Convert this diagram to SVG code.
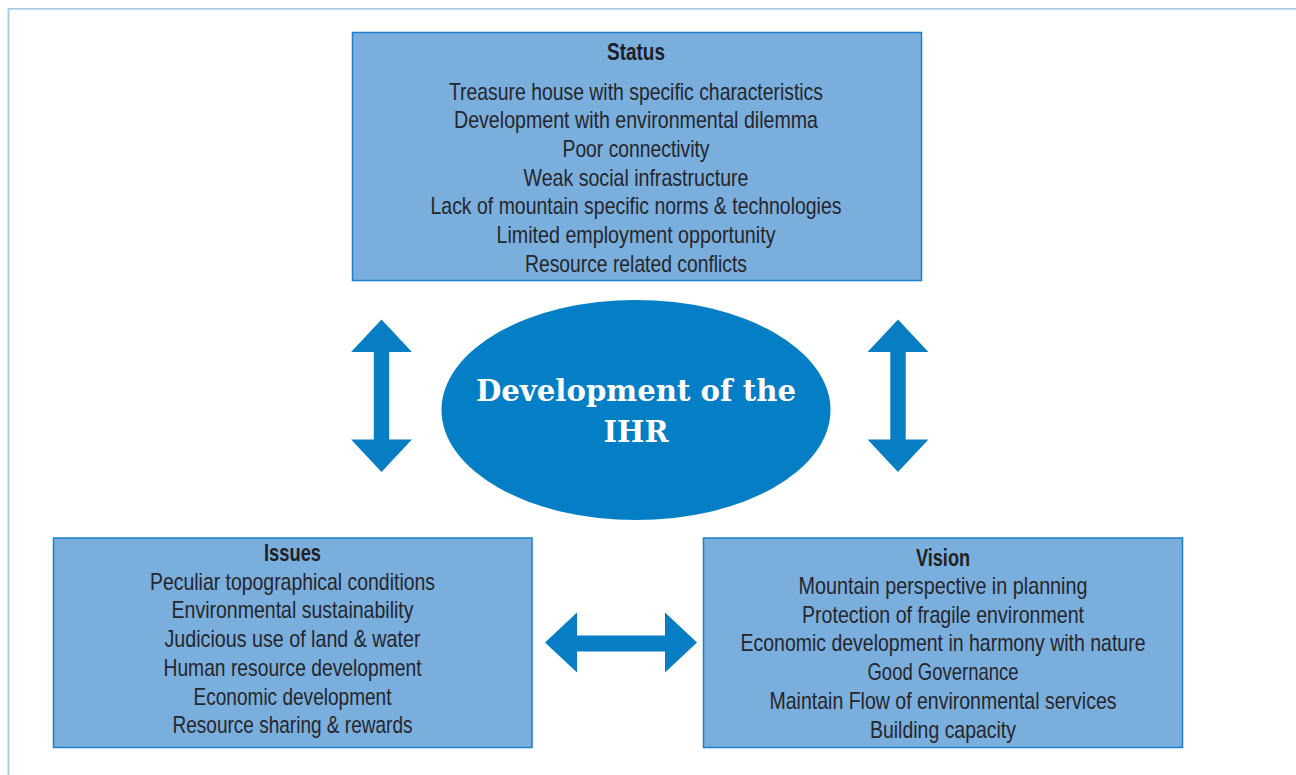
<svg xmlns="http://www.w3.org/2000/svg" width="1296" height="775" viewBox="0 0 1296 775">
<style>
.box{fill:#7aaedd;stroke:#1b7fca;stroke-width:1.5}
.t{font-family:"Liberation Sans",Arial,sans-serif;font-size:24px;fill:#26262b;text-anchor:middle}
.h{font-family:"Liberation Sans",Arial,sans-serif;font-size:24px;font-weight:bold;fill:#1f1f23;text-anchor:middle}
.arrow{fill:#077dc4}
.ct{font-family:"DejaVu Serif",serif;font-size:29px;font-weight:bold;fill:#ffffff;text-anchor:middle}
</style>
<rect width="1296" height="775" fill="#ffffff"/>
<path d="M8.5,775 V8.8 H1296" fill="none" stroke="#a9cbe9" stroke-width="1.8"/>

<g id="status">
<rect class="box" x="352.5" y="32.5" width="569" height="248"/>
<text class="h" x="636" y="59.5" textLength="58" lengthAdjust="spacingAndGlyphs">Status</text>
<text class="t" x="636" y="99.5" textLength="374" lengthAdjust="spacingAndGlyphs">Treasure house with specific characteristics</text>
<text class="t" x="636" y="128.2" textLength="364" lengthAdjust="spacingAndGlyphs">Development with environmental dilemma</text>
<text class="t" x="636" y="156.9" textLength="147" lengthAdjust="spacingAndGlyphs">Poor connectivity</text>
<text class="t" x="636" y="185.6" textLength="225" lengthAdjust="spacingAndGlyphs">Weak social infrastructure</text>
<text class="t" x="636" y="214.3" textLength="411" lengthAdjust="spacingAndGlyphs">Lack of mountain specific norms &amp; technologies</text>
<text class="t" x="636" y="243" textLength="279" lengthAdjust="spacingAndGlyphs">Limited employment opportunity</text>
<text class="t" x="636" y="271.7" textLength="222" lengthAdjust="spacingAndGlyphs">Resource related conflicts</text>
</g>

<g id="center">
<ellipse cx="636" cy="410" rx="194.5" ry="110" fill="#047ec5"/>
<text class="ct" x="636" y="401" textLength="320" lengthAdjust="spacingAndGlyphs">Development of the</text>
<text class="ct" x="636" y="442">IHR</text>
</g>

<g id="issues">
<rect class="box" x="53.5" y="538" width="478.5" height="209.5"/>
<text class="h" x="292.5" y="561" textLength="57" lengthAdjust="spacingAndGlyphs">Issues</text>
<text class="t" x="292.5" y="589.8" textLength="285" lengthAdjust="spacingAndGlyphs">Peculiar topographical conditions</text>
<text class="t" x="292.5" y="618.3" textLength="242" lengthAdjust="spacingAndGlyphs">Environmental sustainability</text>
<text class="t" x="292.5" y="646.9" textLength="256" lengthAdjust="spacingAndGlyphs">Judicious use of land &amp; water</text>
<text class="t" x="292.5" y="675.5" textLength="258" lengthAdjust="spacingAndGlyphs">Human resource development</text>
<text class="t" x="292.5" y="704.5" textLength="198" lengthAdjust="spacingAndGlyphs">Economic development</text>
<text class="t" x="292.5" y="732.9" textLength="240" lengthAdjust="spacingAndGlyphs">Resource sharing &amp; rewards</text>
</g>

<g id="vision">
<rect class="box" x="703.5" y="538" width="479" height="209.5"/>
<text class="h" x="943" y="565.5" textLength="54" lengthAdjust="spacingAndGlyphs">Vision</text>
<text class="t" x="943" y="594" textLength="289" lengthAdjust="spacingAndGlyphs">Mountain perspective in planning</text>
<text class="t" x="943" y="622.7" textLength="282" lengthAdjust="spacingAndGlyphs">Protection of fragile environment</text>
<text class="t" x="943" y="651.4" textLength="405" lengthAdjust="spacingAndGlyphs">Economic development in harmony with nature</text>
<text class="t" x="943" y="680.1" textLength="151" lengthAdjust="spacingAndGlyphs">Good Governance</text>
<text class="t" x="943" y="708.8" textLength="347" lengthAdjust="spacingAndGlyphs">Maintain Flow of environmental services</text>
<text class="t" x="943" y="737.5" textLength="146" lengthAdjust="spacingAndGlyphs">Building capacity</text>
</g>

<g id="connectors">
<polygon class="arrow" points="381.5,319.5 411.9,352 389.2,352 389.2,439.5 411.9,439.5 381.5,472 351.1,439.5 373.8,439.5 373.8,352 351.1,352"/>
<polygon class="arrow" points="898,319.5 928.4,352 905.7,352 905.7,439.5 928.4,439.5 898,472 867.6,439.5 890.3,439.5 890.3,352 867.6,352"/>
<polygon class="arrow" points="545,642.5 577,612.5 577,635.5 665,635.5 665,612.5 697,642.5 665,672.5 665,651.5 577,651.5 577,672.5"/>
</g>
</svg>
